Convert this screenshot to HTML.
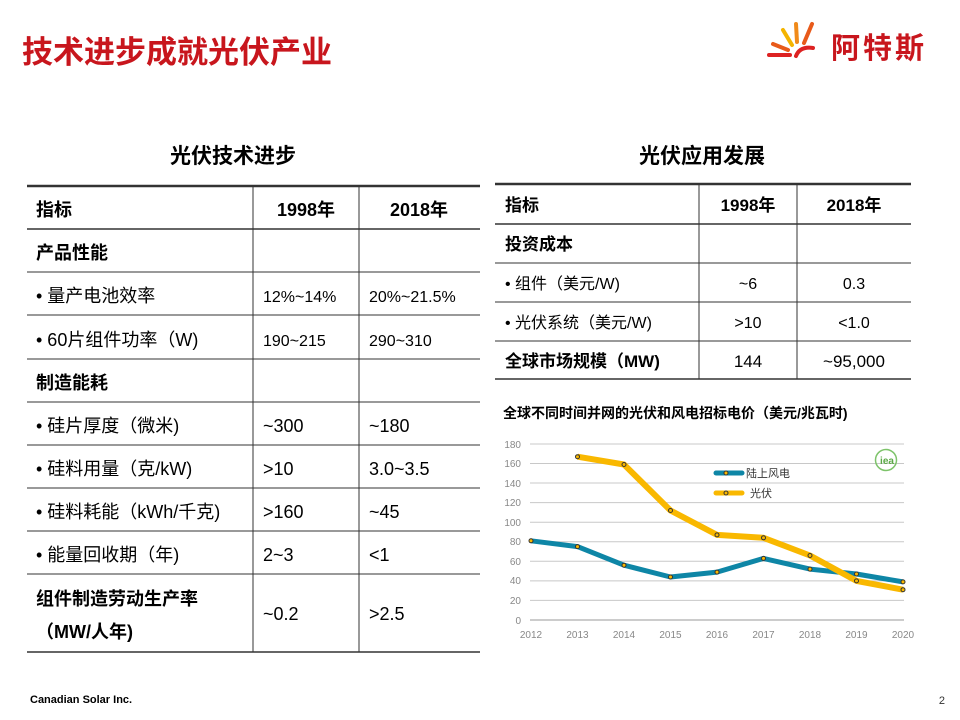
<!DOCTYPE html>
<html><head><meta charset="utf-8"><style>
body{margin:0;background:#fff}
svg{display:block}
text{font-family:"Liberation Sans","Noto Sans CJK SC",sans-serif}
</style></head><body>
<svg width="960" height="720" viewBox="0 0 960 720" xmlns="http://www.w3.org/2000/svg">
<text x="22" y="63" font-size="31" font-weight="bold" fill="#c8161d">技术进步成就光伏产业</text>
<!-- logo -->
<g fill="none" stroke-linecap="round" stroke-width="4">
<path d="M769 55 L790 55" stroke="#d22"/>
<path d="M773 44 L788 50" stroke="#e85a1a"/>
<path d="M783 30 L792 45" stroke="#f4b400"/>
<path d="M796 24 L797 42" stroke="#f08a1a"/>
<path d="M812 24 L804 43" stroke="#e85a1a"/>
<path d="M796 56 Q800 46 813 48" stroke="#d22"/>
</g>
<text x="831" y="58" font-size="29" font-weight="bold" fill="#c8161d" letter-spacing="3">阿特斯</text>

<text x="233" y="163" font-size="21" font-weight="bold" text-anchor="middle" fill="#000">光伏技术进步</text>
<text x="702" y="163" font-size="21" font-weight="bold" text-anchor="middle" fill="#000">光伏应用发展</text>

<!-- left table -->
<g stroke="#333">
<line x1="27" y1="186" x2="480" y2="186" stroke-width="2.5"/>
<line x1="27" y1="229" x2="480" y2="229" stroke-width="1.5"/>
<line x1="27" y1="272" x2="480" y2="272"/>
<line x1="27" y1="315" x2="480" y2="315"/>
<line x1="27" y1="359" x2="480" y2="359"/>
<line x1="27" y1="402" x2="480" y2="402"/>
<line x1="27" y1="445" x2="480" y2="445"/>
<line x1="27" y1="488" x2="480" y2="488"/>
<line x1="27" y1="531" x2="480" y2="531"/>
<line x1="27" y1="574" x2="480" y2="574"/>
<line x1="27" y1="652" x2="480" y2="652" stroke-width="1.5"/>
<line x1="253" y1="186" x2="253" y2="652"/>
<line x1="359" y1="186" x2="359" y2="652"/>
</g>
<g font-size="18" fill="#000">
<text x="36" y="216" font-weight="bold">指标</text>
<text x="306" y="216" font-weight="bold" text-anchor="middle">1998年</text>
<text x="419" y="216" font-weight="bold" text-anchor="middle">2018年</text>
<text x="36" y="259" font-weight="bold">产品性能</text>
<text x="36" y="302">•  量产电池效率</text>
<text x="263" y="302" font-size="16">12%~14%</text>
<text x="369" y="302" font-size="16">20%~21.5%</text>
<text x="36" y="346">•  60片组件功率（W)</text>
<text x="263" y="346" font-size="16">190~215</text>
<text x="369" y="346" font-size="16">290~310</text>
<text x="36" y="389" font-weight="bold">制造能耗</text>
<text x="36" y="432">•  硅片厚度（微米)</text>
<text x="263" y="432">~300</text>
<text x="369" y="432">~180</text>
<text x="36" y="475">•  硅料用量（克/kW)</text>
<text x="263" y="475">&gt;10</text>
<text x="369" y="475">3.0~3.5</text>
<text x="36" y="518">•  硅料耗能（kWh/千克)</text>
<text x="263" y="518">&gt;160</text>
<text x="369" y="518">~45</text>
<text x="36" y="561">•  能量回收期（年)</text>
<text x="263" y="561">2~3</text>
<text x="369" y="561">&lt;1</text>
<text x="36" y="605" font-weight="bold">组件制造劳动生产率</text>
<text x="36" y="638" font-weight="bold">（MW/人年)</text>
<text x="263" y="620">~0.2</text>
<text x="369" y="620">&gt;2.5</text>
</g>

<!-- right table -->
<g stroke="#333">
<line x1="495" y1="184" x2="911" y2="184" stroke-width="2.5"/>
<line x1="495" y1="224" x2="911" y2="224" stroke-width="1.5"/>
<line x1="495" y1="263" x2="911" y2="263"/>
<line x1="495" y1="302" x2="911" y2="302"/>
<line x1="495" y1="341" x2="911" y2="341"/>
<line x1="495" y1="379" x2="911" y2="379" stroke-width="1.5"/>
<line x1="699" y1="184" x2="699" y2="379"/>
<line x1="797" y1="184" x2="797" y2="379"/>
</g>
<g font-size="17" fill="#000">
<text x="505" y="211" font-weight="bold">指标</text>
<text x="748" y="211" font-weight="bold" text-anchor="middle">1998年</text>
<text x="854" y="211" font-weight="bold" text-anchor="middle">2018年</text>
<text x="505" y="250" font-weight="bold">投资成本</text>
<text x="505" y="289" font-size="16">•  组件（美元/W)</text>
<text x="748" y="289" font-size="16" text-anchor="middle">~6</text>
<text x="854" y="289" font-size="16" text-anchor="middle">0.3</text>
<text x="505" y="328" font-size="16">•  光伏系统（美元/W)</text>
<text x="748" y="328" font-size="16" text-anchor="middle">&gt;10</text>
<text x="854" y="328" font-size="16" text-anchor="middle">&lt;1.0</text>
<text x="505" y="367" font-weight="bold">全球市场规模（MW)</text>
<text x="748" y="367" text-anchor="middle">144</text>
<text x="854" y="367" text-anchor="middle">~95,000</text>
</g>

<text x="503" y="418" font-size="14" font-weight="bold" fill="#000">全球不同时间并网的光伏和风电招标电价（美元/兆瓦时)</text>

<!-- chart -->
<g stroke="#c8c8c8" stroke-width="1">
<line x1="530" y1="444" x2="904" y2="444"/>
<line x1="530" y1="463.5" x2="904" y2="463.5"/>
<line x1="530" y1="483" x2="904" y2="483"/>
<line x1="530" y1="502.6" x2="904" y2="502.6"/>
<line x1="530" y1="522.2" x2="904" y2="522.2"/>
<line x1="530" y1="541.8" x2="904" y2="541.8"/>
<line x1="530" y1="561.3" x2="904" y2="561.3"/>
<line x1="530" y1="580.9" x2="904" y2="580.9"/>
<line x1="530" y1="600.4" x2="904" y2="600.4"/>
<line x1="530" y1="620" x2="904" y2="620" stroke="#999"/>
</g>
<g font-size="10" fill="#888" text-anchor="end">
<text x="521" y="448">180</text><text x="521" y="467">160</text><text x="521" y="487">140</text>
<text x="521" y="506">120</text><text x="521" y="526">100</text><text x="521" y="545">80</text>
<text x="521" y="565">60</text><text x="521" y="584">40</text><text x="521" y="604">20</text>
<text x="521" y="624">0</text>
</g>
<g font-size="10" fill="#888" text-anchor="middle">
<text x="531" y="638">2012</text><text x="577.5" y="638">2013</text><text x="624" y="638">2014</text>
<text x="670.5" y="638">2015</text><text x="717" y="638">2016</text><text x="763.5" y="638">2017</text>
<text x="810" y="638">2018</text><text x="856.5" y="638">2019</text><text x="903" y="638">2020</text>
</g>
<polyline fill="none" stroke="#0e86a6" stroke-width="5" stroke-linejoin="round"
 points="531,540.8 577.5,546.6 624,565.2 670.5,577 717,572.1 763.5,558.4 810,569.1 856.5,574 903,581.9"/>
<polyline fill="none" stroke="#f9b800" stroke-width="6" stroke-linejoin="round"
 points="577.5,456.7 624,464.5 670.5,510.5 717,534.9 763.5,537.8 810,555.5 856.5,580.9 903,589.7"/>
<g fill="#f9b800" stroke="#333" stroke-width="1">
<circle cx="531" cy="540.8" r="2"/><circle cx="577.5" cy="546.6" r="2"/><circle cx="624" cy="565.2" r="2"/>
<circle cx="670.5" cy="577" r="2"/><circle cx="717" cy="572.1" r="2"/><circle cx="763.5" cy="558.4" r="2"/>
<circle cx="810" cy="569.1" r="2"/><circle cx="856.5" cy="574" r="2"/><circle cx="903" cy="581.9" r="2"/>
<circle cx="577.5" cy="456.7" r="2"/><circle cx="624" cy="464.5" r="2"/><circle cx="670.5" cy="510.5" r="2"/>
<circle cx="717" cy="534.9" r="2"/><circle cx="763.5" cy="537.8" r="2"/><circle cx="810" cy="555.5" r="2"/>
<circle cx="856.5" cy="580.9" r="2"/><circle cx="903" cy="589.7" r="2"/>
</g>
<line x1="716" y1="473" x2="742" y2="473" stroke="#0e86a6" stroke-width="5" stroke-linecap="round"/>
<circle cx="726" cy="473" r="2" fill="#f9b800" stroke="#333"/>
<text x="746" y="477" font-size="11" fill="#333">陆上风电</text>
<line x1="716" y1="493" x2="742" y2="493" stroke="#f9b800" stroke-width="5" stroke-linecap="round"/>
<circle cx="726" cy="493" r="2" fill="#f9b800" stroke="#333"/>
<text x="750" y="497" font-size="11" fill="#333">光伏</text>
<circle cx="886" cy="460" r="10.5" fill="none" stroke="#7dc36a" stroke-width="1.5"/>
<text x="887" y="464" font-size="10" font-weight="bold" fill="#5aa845" text-anchor="middle">iea</text>

<text x="30" y="703" font-size="11" font-weight="bold" fill="#000">Canadian Solar Inc.</text>
<text x="945" y="704" font-size="11" fill="#333" text-anchor="end">2</text>
</svg>
</body></html>
